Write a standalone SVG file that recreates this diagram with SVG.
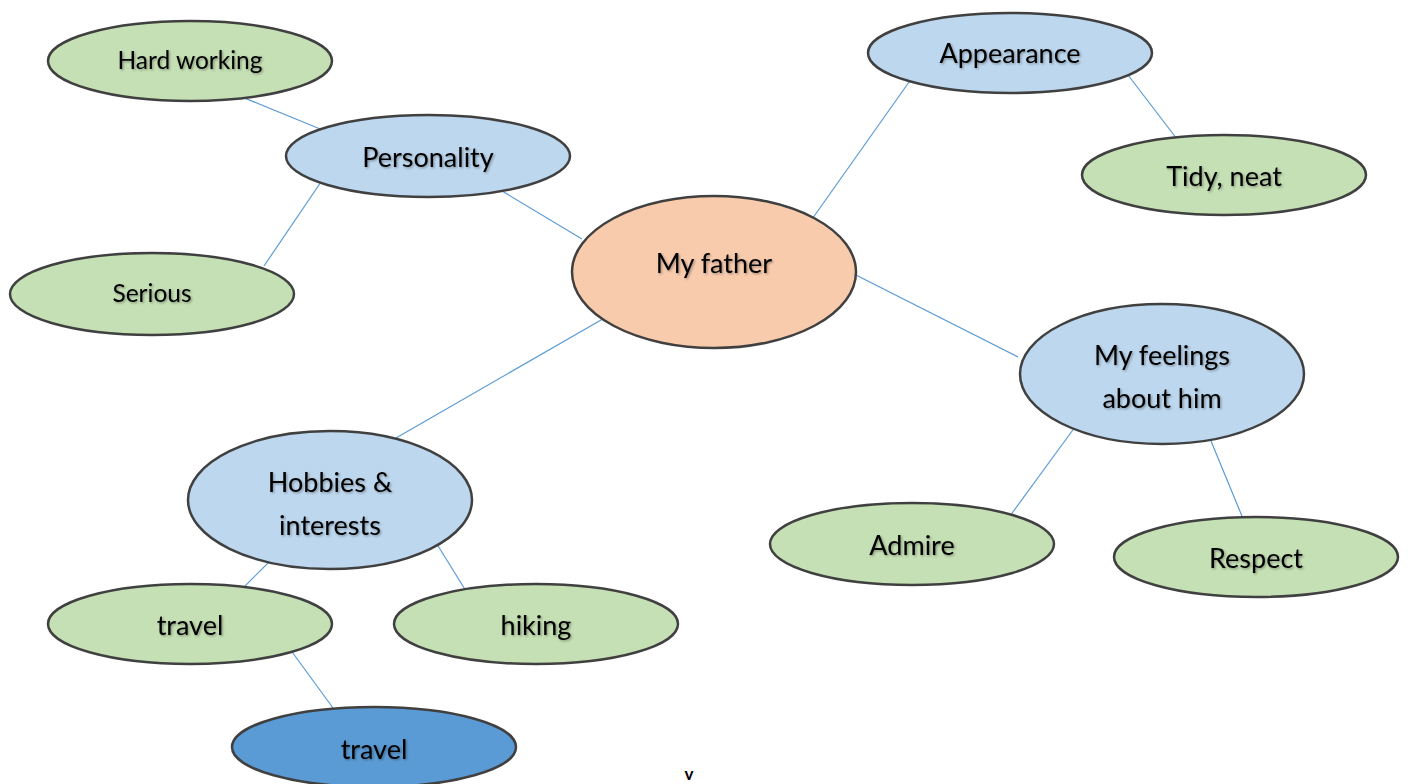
<svg xmlns="http://www.w3.org/2000/svg" width="1408" height="784" viewBox="0 0 1408 784">
<defs>
<filter id="sh" x="-10%" y="-30%" width="120%" height="160%">
<feDropShadow dx="1.2" dy="1.2" stdDeviation="0.8" flood-color="#000" flood-opacity="0.35"/>
</filter>
</defs>
<style>
.n{stroke:#404040;stroke-width:2.5}
.g{fill:#C5E0B4}
.b{fill:#BDD7EE}
.o{fill:#F8CBAD}
.d{fill:#5B9BD5}
text{font-family:Lato,"Open Sans","Liberation Sans",sans-serif;font-size:27px;fill:#000;text-anchor:middle;filter:url(#sh)}
text.s{font-size:24.5px}
.c line{stroke:#5B9BD5;stroke-width:1.2}
</style>
<rect width="1408" height="784" fill="#fff"/>
<g class="c" id="connectors">
<line x1="237" y1="95" x2="330" y2="133"/>
<line x1="323" y1="179" x2="264" y2="266"/>
<line x1="502" y1="191" x2="582" y2="239"/>
<line x1="810" y1="222" x2="914" y2="75"/>
<line x1="1128" y1="75" x2="1180" y2="143"/>
<line x1="848" y1="271" x2="1018" y2="357"/>
<line x1="1075" y1="427" x2="1010" y2="516"/>
<line x1="1211" y1="441" x2="1244" y2="521"/>
<line x1="608" y1="316" x2="396" y2="438"/>
<line x1="286" y1="545" x2="235" y2="596"/>
<line x1="435" y1="541" x2="466" y2="591"/>
<line x1="287" y1="645" x2="333" y2="708"/>
</g>
<g id="hardworking"><ellipse class="n g" cx="190" cy="61" rx="142" ry="40"/><text class="s" x="190" y="69">Hard working</text></g>
<g id="personality"><ellipse class="n b" cx="428" cy="156" rx="142" ry="41"/><text x="428" y="167">Personality</text></g>
<g id="serious"><ellipse class="n g" cx="152" cy="294" rx="142" ry="41"/><text class="s" x="152" y="302">Serious</text></g>
<g id="myfather"><ellipse class="n o" cx="714" cy="272" rx="142" ry="76"/><text x="714" y="273">My father</text></g>
<g id="appearance"><ellipse class="n b" cx="1010" cy="53" rx="142" ry="40"/><text x="1010" y="63">Appearance</text></g>
<g id="tidy"><ellipse class="n g" cx="1224" cy="175" rx="142" ry="40"/><text x="1224" y="186">Tidy, neat</text></g>
<g id="feelings"><ellipse class="n b" cx="1162" cy="374" rx="142" ry="70"/><text x="1162" y="365">My feelings</text><text x="1162" y="408">about him</text></g>
<g id="admire"><ellipse class="n g" cx="912" cy="544" rx="142" ry="41"/><text x="912" y="555">Admire</text></g>
<g id="respect"><ellipse class="n g" cx="1256" cy="557" rx="142" ry="40"/><text x="1256" y="568">Respect</text></g>
<g id="hobbies"><ellipse class="n b" cx="330" cy="500" rx="142" ry="69"/><text x="330" y="492">Hobbies &amp;</text><text x="330" y="535">interests</text></g>
<g id="travel1"><ellipse class="n g" cx="190" cy="624" rx="142" ry="40"/><text x="190" y="635">travel</text></g>
<g id="hiking"><ellipse class="n g" cx="536" cy="624" rx="142" ry="40"/><text x="536" y="635">hiking</text></g>
<g id="travel2"><ellipse class="n d" cx="374" cy="747" rx="142" ry="40"/><text x="374" y="759">travel</text></g>
<text x="689" y="780" style="font-size:17px;filter:none;font-weight:bold">v</text>
</svg>
